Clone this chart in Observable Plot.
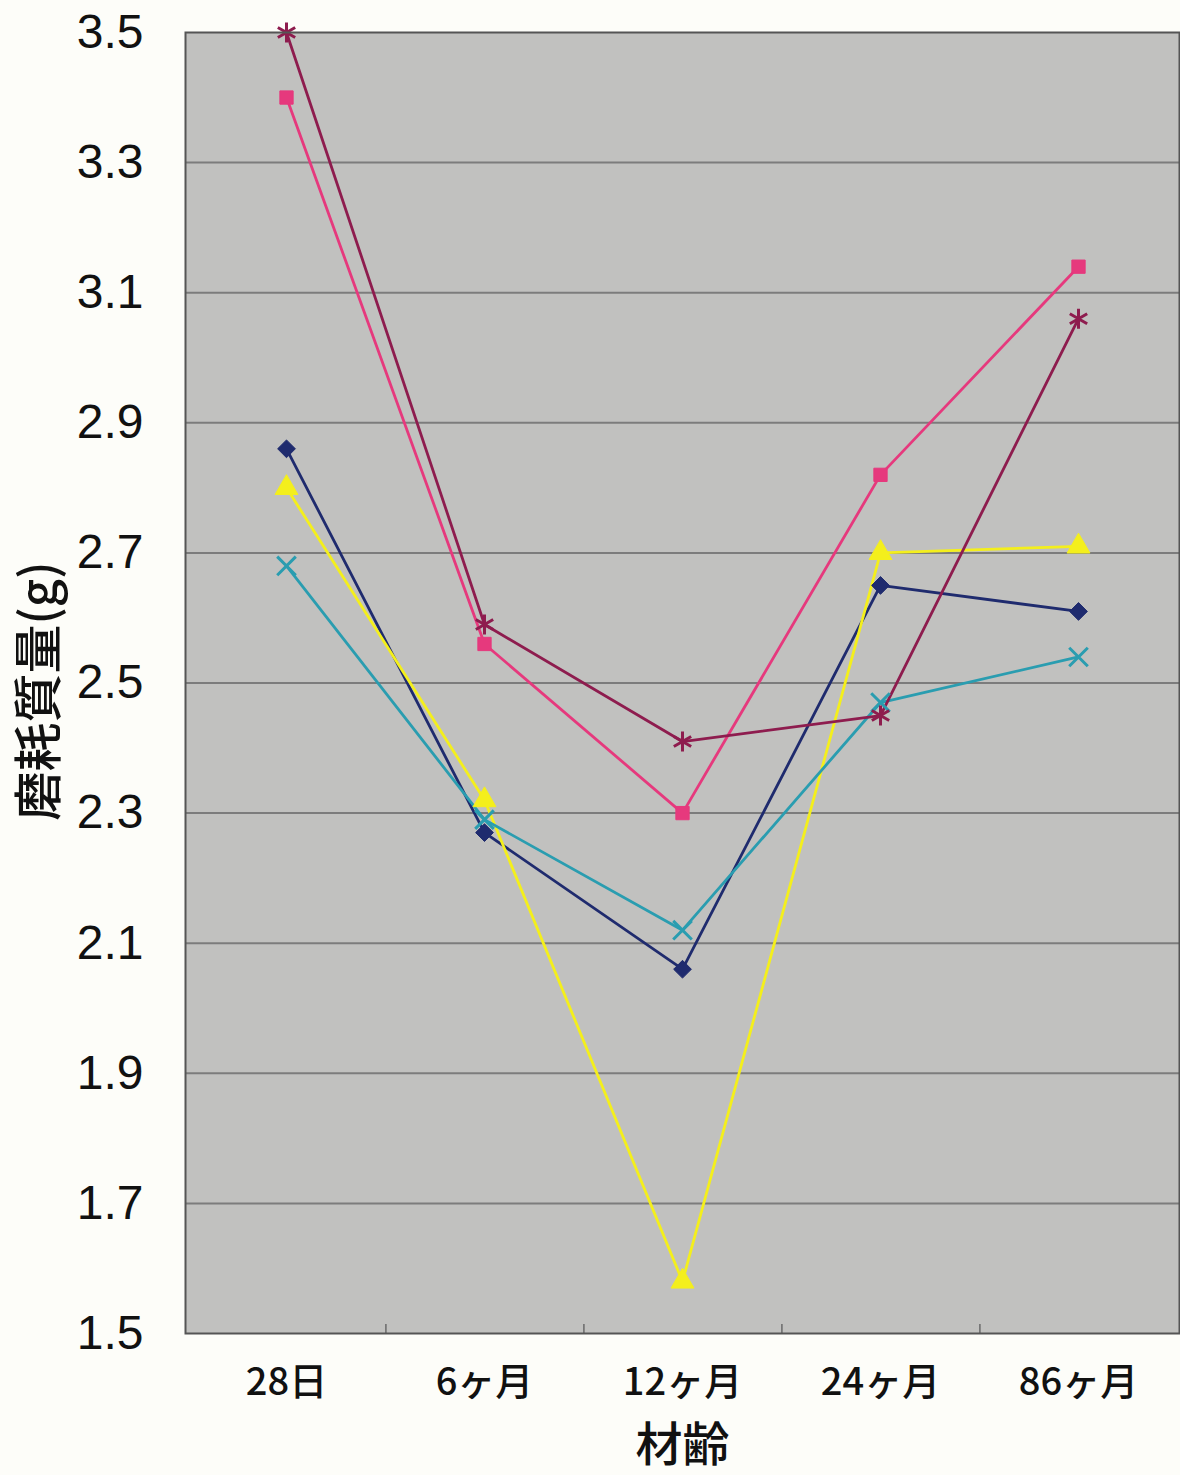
<!DOCTYPE html>
<html><head><meta charset="utf-8">
<script src="https://cdn.jsdelivr.net/npm/d3@7"></script>
<script src="https://cdn.jsdelivr.net/npm/@observablehq/plot@0.6"></script>
<style>
body{margin:0;background:#fdfdf9;}
#chart svg{display:block;}
#chart [aria-label^="y-axis"] text{font-family:"Liberation Sans",Arial,sans-serif;font-size:48px;fill:#111;}
#chart [aria-label^="x-axis"] text{font-family:"Noto Sans CJK JP",sans-serif;font-size:38px;font-weight:500;fill:#111;}
</style></head><body><div id="chart"></div>
<script>
// categories (材齢)
const ages = ["28日","6ヶ月","12ヶ月","24ヶ月","86ヶ月"];
// series values (磨耗質量 g)
const seriesNames = ["系列1","系列2","系列3","系列4","系列5"];
const s1 = [2.86, 2.27, 2.06, 2.65, 2.61];
const s2 = [3.40, 2.56, 2.30, 2.82, 3.14];
const s3 = [2.80, 2.32, 1.58, 2.70, 2.71];
const s4 = [2.68, 2.29, 2.12, 2.47, 2.54];
const s5 = [3.50, 2.59, 2.41, 2.45, 3.06];
const yTicks = [1.5, 1.7, 1.9, 2.1, 2.3, 2.5, 2.7, 2.9, 3.1, 3.3, 3.5];

// styling (separate from data)
const styles = [
  {color:"#1f2b6e", symbol:"diamond2", r:8, filled:true},
  {color:"#e6397d", symbol:"square", r:7.5, filled:true},
  {color:"#f4ef1c", symbol:"triangle", r:8.5, filled:true},
  {color:"#2a9db0", symbol:"times", r:8.5, filled:false},
  {color:"#8e1c4e", symbol:"asterisk", r:9.5, filled:false}
];
const allSeries = [s1, s2, s3, s4, s5];
const rows = allSeries.map((vals, k) => vals.map((v, i) => ({series: seriesNames[k], age: ages[i], value: v})));

const W = 1180, H = 1475, mL = 185, mR = 1, mT = 32, mB = 142;
const step = (W - mL - mR) / ages.length;
const plotH = H - mT - mB;
const CJK = "'Noto Sans CJK JP', sans-serif";

const seriesMarks = [];
rows.forEach((data, k) => {
  const st = styles[k];
  seriesMarks.push(Plot.line(data, {x: "age", y: "value", stroke: st.color, strokeWidth: 2.8}));
});
rows.forEach((data, k) => {
  const st = styles[k];
  seriesMarks.push(Plot.dot(data, st.filled
    ? {x: "age", y: "value", symbol: () => st.symbol, r: st.r, fill: st.color, stroke: st.color, strokeWidth: 1}
    : {x: "age", y: "value", symbol: () => st.symbol, r: st.r, fill: "none", stroke: st.color, strokeWidth: 3}));
});

const chart = Plot.plot({
  width: W, height: H,
  marginLeft: mL, marginRight: mR, marginTop: mT, marginBottom: mB,
  style: {background: "transparent", fontFamily: "'Liberation Sans', Arial, sans-serif", fontSize: "40px", overflow: "visible"},
  x: {type: "point", domain: ages, padding: 0.5, label: null, tickSize: 0, tickPadding: 35},
  y: {domain: [1.5, 3.5], ticks: yTicks, tickFormat: d3.format(".1f"), tickSize: 0, tickPadding: 42, label: null},
  symbol: {type: "identity"},
  marks: [
    Plot.frame({fill: "#c1c1bf"}),
    Plot.ruleY(yTicks.slice(1, -1), {stroke: "#7c7c7c", strokeWidth: 2}),
    Plot.ruleX(ages.slice(0, -1), {dx: step / 2, insetTop: plotH - 9, stroke: "#6a6a6a", strokeWidth: 1.5}),
    ...seriesMarks,
    Plot.frame({stroke: "#555", strokeWidth: 2}),
    Plot.text(["材齢"], {frameAnchor: "bottom", dy: 127, fontSize: 47, fontFamily: CJK, fontWeight: 500, fill: "#111"}),
    Plot.text(["磨耗質量(g)"], {frameAnchor: "left", textAnchor: "middle", dx: -145, dy: 8, rotate: -90, fontSize: 49, fontFamily: CJK, fontWeight: 500, fill: "#111"})
  ]
});
document.getElementById("chart").appendChild(chart);
</script>
</body></html>
